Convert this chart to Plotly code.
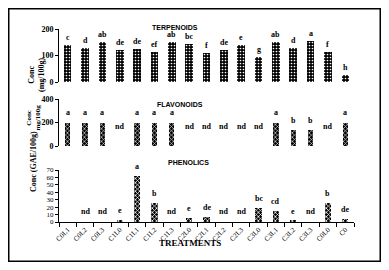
import plotly.graph_objects as go

categories = ["C0L1", "C0L2", "C0L3", "C1L0", "C1L1", "C1L2", "C1L3", "C2L0", "C2L1",
              "C2L2", "C2L3", "C3L0", "C3L1", "C3L2", "C3L3", "C0L0", "C0"]

terpenoids = [140, 130, 150, 120, 124, 115, 150, 142, 110, 120, 140, 95, 150, 130, 155, 115, 26]
terp_letters = ["c", "d", "ab", "de", "de", "ef", "ab", "bc", "f", "de", "e", "g", "ab", "d", "a", "f", "h"]

flavonoids = [200, 200, 200, 0, 200, 200, 200, 0, 0, 0, 0, 0, 200, 135, 135, 0, 200]
flav_letters = ["a", "a", "a", "nd", "a", "a", "a", "nd", "nd", "nd", "nd", "nd", "a", "b", "b", "nd", "a"]

phenolics = [0, 0, 0, 3, 62, 26, 0, 6, 7, 0, 0, 19, 15, 1.5, 0, 26, 4.5]
phen_letters = ["", "nd", "nd", "e", "a", "b", "nd", "e", "de", "nd", "nd", "bc", "cd", "e", "nd", "b", "de"]

# the page body keeps its default 8px margin, so the figure starts at (8, 8)
OFF = 8
W, H = 389 - 2 * OFF, 270 - 2 * OFF
L, T = 59 - OFF, 29 - OFF
R = W - (354 - OFF)
B = H - (222 - OFF)
PW, PH = W - L - R, H - T - B


def px_x(px):
    fx = min(max(px - OFF, 0.75), W - 0.75)
    return (fx - L) / PW


def px_y(py):
    fy = min(max(py - OFF, 0.75), H - 0.75)
    return (H - B - fy) / PH


SERIF = "Liberation Serif"
SANS = "Liberation Sans"

fig = go.Figure()

fig.add_trace(go.Bar(x=categories, y=terpenoids, width=0.44, xaxis="x", yaxis="y",
                     marker=dict(color="black", line=dict(width=0),
                                 pattern=dict(shape=".", fgcolor="white", bgcolor="black",
                                              size=3, solidity=0.25, fillmode="replace")),
                     showlegend=False))
fig.add_trace(go.Bar(x=categories, y=flavonoids, width=0.3, xaxis="x2", yaxis="y2",
                     marker=dict(color="black", line=dict(width=0),
                                 pattern=dict(shape="x", fgcolor="#dddddd", bgcolor="black",
                                              size=3, solidity=0.4, fillmode="replace")),
                     showlegend=False))
fig.add_trace(go.Bar(x=categories, y=phenolics, width=0.36, xaxis="x3", yaxis="y3",
                     marker=dict(color="black", line=dict(width=0),
                                 pattern=dict(shape="x", fgcolor="white", bgcolor="black",
                                              size=3, solidity=0.45, fillmode="replace")),
                     showlegend=False))

ann = []
lab_font = dict(family=SERIF, size=8, color="black")
for i, c in enumerate(categories):
    ann.append(dict(x=c, y=terpenoids[i], xref="x", yref="y", text="<b>%s</b>" % terp_letters[i],
                    showarrow=False, yanchor="bottom", yshift=1, font=lab_font))
    if flav_letters[i] == "nd":
        ann.append(dict(x=c, y=0, xref="x2", yref="y2", text="<b>nd</b>", showarrow=False,
                        yanchor="bottom", yshift=13, font=lab_font))
    else:
        ann.append(dict(x=c, y=flavonoids[i], xref="x2", yref="y2", text="<b>%s</b>" % flav_letters[i],
                        showarrow=False, yanchor="bottom", yshift=3, font=lab_font))
    if phen_letters[i] == "nd":
        ann.append(dict(x=c, y=0, xref="x3", yref="y3", text="<b>nd</b>", showarrow=False,
                        yanchor="bottom", yshift=4, font=lab_font))
    elif phen_letters[i]:
        ann.append(dict(x=c, y=phenolics[i], xref="x3", yref="y3", text="<b>%s</b>" % phen_letters[i],
                        showarrow=False, yanchor="bottom", yshift=3, font=lab_font))

title_font = dict(family=SANS, size=7, color="black")
ann.append(dict(x=px_x(175), y=px_y(22), xref="paper", yref="paper", text="<b>TERPENOIDS</b>",
                showarrow=False, font=title_font))
ann.append(dict(x=px_x(180), y=px_y(105), xref="paper", yref="paper", text="<b>FLAVONOIDS</b>",
                showarrow=False, font=title_font))
ann.append(dict(x=px_x(188), y=px_y(168), xref="paper", yref="paper", text="<b>PHENOLICS</b>",
                showarrow=False, font=title_font))

ann.append(dict(x=px_x(25), y=px_y(55), xref="paper", yref="paper", text="<b>Conc<br>(mg/100g)</b>",
                textangle=-90, showarrow=False, font=dict(family=SERIF, size=8, color="black")))
ann.append(dict(x=px_x(22), y=px_y(118), xref="paper", yref="paper", text="<b>Conc<br>mg/100g</b>",
                textangle=-90, showarrow=False, font=dict(family=SERIF, size=7, color="black")))
ann.append(dict(x=px_x(27), y=px_y(194), xref="paper", yref="paper", text="<b>Conc (GAE/100g)</b>",
                textangle=-90, showarrow=False, font=dict(family=SERIF, size=8, color="black")))
ann.append(dict(x=px_x(190), y=px_y(250), xref="paper", yref="paper", text="<b>TREATMENTS</b>",
                showarrow=False, font=dict(family=SERIF, size=9, color="black")))

yaxis_common = dict(showline=True, linecolor="black", linewidth=1, ticks="outside", ticklen=3,
                    tickcolor="black", showgrid=False, zeroline=False, automargin=False)
xaxis_hidden = dict(showline=False, showticklabels=False, ticks="", showgrid=False,
                    zeroline=False, range=[-0.5, 16.5], automargin=False)

fig.update_layout(
    template="none",
    width=W, height=H,
    margin=dict(l=L, r=R, t=T, b=B, autoexpand=False),
    paper_bgcolor="white", plot_bgcolor="white",
    font=dict(family=SERIF, color="black"),
    bargap=0,
    xaxis=dict(domain=[0, 1], anchor="y", **xaxis_hidden),
    xaxis2=dict(domain=[0, 1], anchor="y2", **xaxis_hidden),
    xaxis3=dict(domain=[0, 1], anchor="y3", range=[-0.5, 16.5], showline=True, linecolor="black",
                linewidth=1, ticks="outside", ticklen=4, tickcolor="black", tickson="boundaries",
                tickangle=-45, showgrid=False, zeroline=False, automargin=False,
                tickfont=dict(family=SERIF, size=7, color="black")),
    yaxis=dict(domain=[px_y(82), px_y(29)], anchor="x", range=[0, 200], tickvals=[0, 100, 200],
               ticktext=["<b>0</b>", "<b>100</b>", "<b>200</b>"],
               tickfont=dict(family=SERIF, size=8, color="black"), **yaxis_common),
    yaxis2=dict(domain=[px_y(146), px_y(99)], anchor="x2", range=[0, 400], tickvals=[0, 200, 400],
                ticktext=["<b>0</b>", "<b>200</b>", "<b>400</b>"],
                tickfont=dict(family=SERIF, size=8, color="black"), **yaxis_common),
    yaxis3=dict(domain=[0, px_y(170)], anchor="x3", range=[0, 70], tickvals=list(range(0, 71, 10)),
                tickfont=dict(family=SERIF, size=7, color="black"), **yaxis_common),
    annotations=ann,
    shapes=[dict(type="rect", xref="paper", yref="paper", x0=px_x(3), x1=px_x(383),
                 y0=px_y(263), y1=px_y(7), line=dict(color="black", width=1.5))],
)

fig.write_html("out.html")
